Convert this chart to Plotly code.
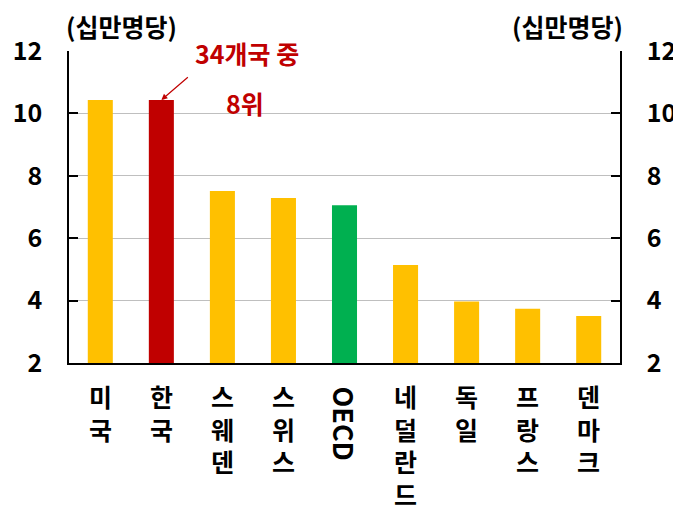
import plotly.graph_objects as go

categories = ["미국", "한국", "스웨덴", "스위스", "OECD", "네덜란드", "독일", "프랑스", "덴마크"]
values = [10.43, 10.43, 7.51, 7.29, 7.06, 5.14, 3.97, 3.74, 3.51]
bar_colors = ["#FFC000", "#C00000", "#FFC000", "#FFC000", "#00B050", "#FFC000", "#FFC000", "#FFC000", "#FFC000"]
unit_label = "(십만명당)"
rank_line1 = "34개국 중"
rank_line2 = "8위"
tick_vals = [2, 4, 6, 8, 10, 12]

FONT = "Noto Sans CJK KR"

fig = go.Figure()
fig.add_trace(go.Bar(x=categories, y=values, marker=dict(color=bar_colors, line=dict(width=0)),
                     width=0.41, showlegend=False, hoverinfo="x+y"))
# invisible trace for right axis
fig.add_trace(go.Scatter(x=categories, y=values, yaxis="y2", mode="markers",
                         marker=dict(opacity=0), showlegend=False, hoverinfo="skip"))

axis_common = dict(range=[2, 12], tickvals=tick_vals, ticks="inside", ticklen=9, tickwidth=1.5,
                   tickcolor="black", showline=True, linecolor="black", linewidth=1.5,
                   tickfont=dict(family=FONT, size=25, color="black", weight="bold"),
                   ticklabelstandoff=20, zeroline=False, automargin=False)

fig.update_layout(
    width=673, height=502,
    margin=dict(l=61, r=61, t=43, b=147),
    plot_bgcolor="white", paper_bgcolor="white",
    font=dict(family=FONT),
    xaxis=dict(showticklabels=False, showline=True, linecolor="black", linewidth=1.5,
               ticks="", showgrid=False, automargin=False),
    yaxis=dict(**axis_common, showgrid=True, gridcolor="#BFBFBF", gridwidth=1),
    yaxis2=dict(**axis_common, overlaying="y", side="right", showgrid=False),
)

annotations = []
for c in categories:
    if c == "OECD":
        annotations.append(dict(x=c, xref="x", y=0, yref="paper", yanchor="top", xanchor="center",
                                yshift=-21, text="<b>" + c + "</b>", textangle=90, showarrow=False,
                                font=dict(family=FONT, size=27, color="black")))
    else:
        annotations.append(dict(x=c, xref="x", y=0, yref="paper", yanchor="top", xanchor="center",
                                yshift=-14, borderpad=0, text="<b>" + "<br>".join(list(c)) + "</b>",
                                showarrow=False, font=dict(family=FONT, size=25, color="black")))

annotations.append(dict(x=0.096, xref="paper", y=1.08, yref="paper", xanchor="center", yanchor="middle",
                        text="<b>" + unit_label + "</b>",
                        showarrow=False, font=dict(family=FONT, size=25, color="black")))
annotations.append(dict(x=0.904, xref="paper", y=1.08, yref="paper", xanchor="center", yanchor="middle",
                        text="<b>" + unit_label + "</b>",
                        showarrow=False, font=dict(family=FONT, size=25, color="black")))
annotations.append(dict(x=0.323, xref="paper", y=0.994, yref="paper", xanchor="center", yanchor="middle",
                        text="<b>" + rank_line1 + "</b>",
                        showarrow=False, font=dict(family=FONT, size=25, color="#C00000")))
annotations.append(dict(x=0.319, xref="paper", y=0.833, yref="paper", xanchor="center", yanchor="middle",
                        text="<b>" + rank_line2 + "</b>",
                        showarrow=False, font=dict(family=FONT, size=25, color="#C00000")))
annotations.append(dict(x=categories[1], xref="x", y=values[1], yref="y", text="", showarrow=True,
                        ax=28, ay=-24, arrowhead=2, arrowsize=1, arrowwidth=1.2, arrowcolor="#C00000"))

fig.update_layout(annotations=annotations)
fig.write_html("out.html")
